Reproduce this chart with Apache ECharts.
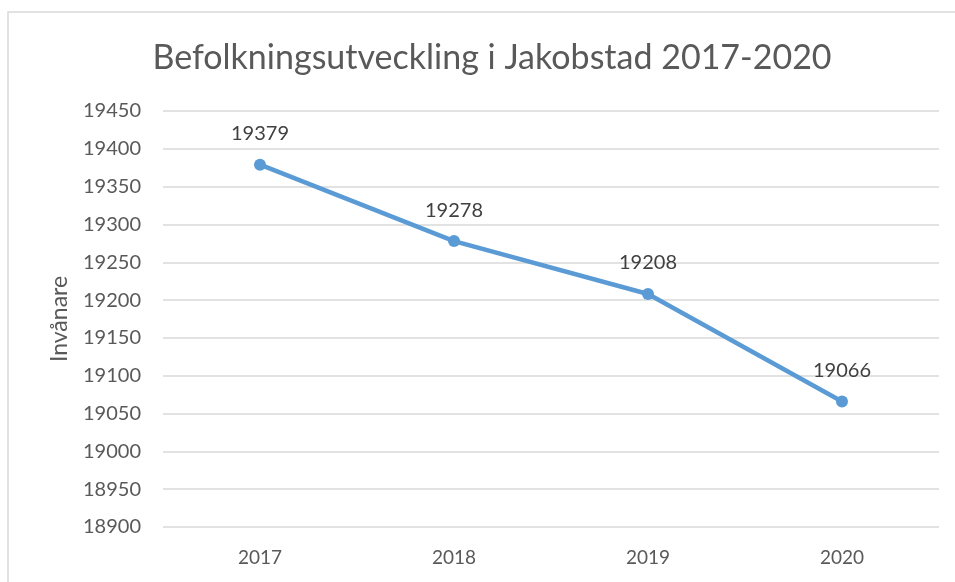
<!DOCTYPE html>
<html><head><meta charset="utf-8">
<script src="https://cdn.jsdelivr.net/npm/echarts@6/dist/echarts.min.js"></script>
<style>html,body{margin:0;padding:0;background:#fff}#c{width:955px;height:582px}</style>
</head><body><div id="c"></div>
<script>
const categories = ['2017', '2018', '2019', '2020'];
const inhabitants = [19379, 19278, 19208, 19066];
const titleText = 'Befolkningsutveckling i Jakobstad 2017-2020';
const yAxisName = 'Invånare';

const chart = echarts.init(document.getElementById('c'));
chart.setOption({
  animation: false,
  title: {
    text: titleText, left: 487, top: 36, textAlign: 'center',
    textStyle: {fontFamily: 'Lato', fontSize: 34, fontWeight: 'normal', color: '#595959'}
  },
  graphic: [{
    type: 'rect', shape: {x: 8, y: 12, width: 1000, height: 700},
    style: {fill: 'none', stroke: '#d9d9d9', lineWidth: 1.5}, silent: true, z: -1
  }],
  grid: {left: 163, right: 16, top: 111, bottom: 55},
  xAxis: {
    type: 'category', data: categories, boundaryGap: true,
    axisLine: {show: false}, axisTick: {show: false},
    axisLabel: {fontFamily: 'Lato', fontSize: 19, color: '#595959', margin: 21}
  },
  yAxis: {
    type: 'value', min: 18900, max: 19450, interval: 50,
    name: yAxisName, nameLocation: 'middle', nameGap: 92, nameRotate: 90,
    nameTextStyle: {fontFamily: 'Lato', fontSize: 23, color: '#595959'},
    axisLine: {show: false}, axisTick: {show: false},
    axisLabel: {fontFamily: 'Lato', fontSize: 20, color: '#595959', margin: 22,
      formatter: v => String(v)},
    splitLine: {lineStyle: {color: '#d9d9d9', width: 1.5}}
  },
  series: [{
    type: 'line', data: inhabitants,
    lineStyle: {color: '#5b9bd5', width: 4.5},
    itemStyle: {color: '#5b9bd5'},
    symbol: 'circle', symbolSize: 12,
    label: {show: true, position: 'top', distance: 15, fontFamily: 'Lato', fontSize: 20, color: '#404040'}
  }]
});
</script></body></html>
